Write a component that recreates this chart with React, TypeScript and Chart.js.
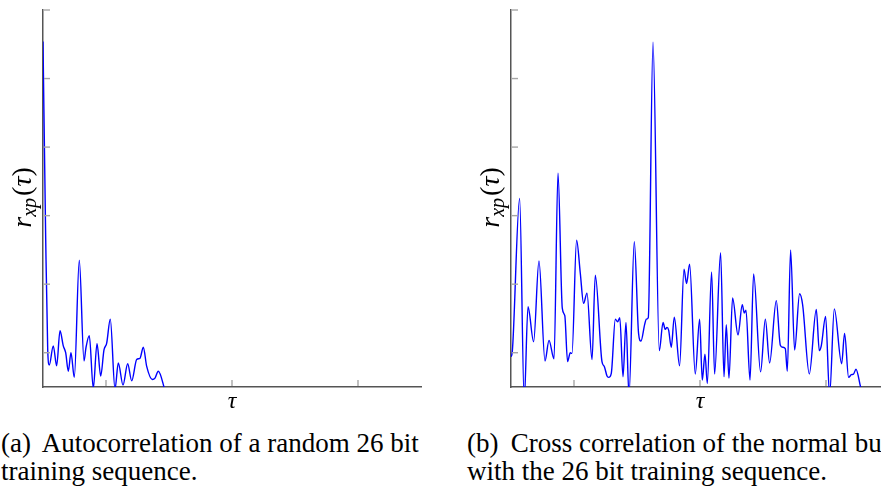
import React, { useEffect, useRef } from "react";
import { Chart, registerables } from "chart.js";

Chart.register(...registerables);

// ---- axis setup (arbitrary units, no tick labels in the figure) ----
const X_MIN = 0;
const X_MAX = 6;
const Y_MIN = -0.5;
const Y_MAX = 5;
const X_TICKS = [1, 3, 5];
const Y_TICKS = [0, 1, 2, 3, 4, 5];

// ---- (a) autocorrelation of random 26 bit training sequence ----
const autoTau = [0, 0.043, 0.075, 0.1, 0.163, 0.217, 0.27, 0.322, 0.36, 0.402, 0.444, 0.497, 0.576, 0.651, 0.683, 0.735, 0.798, 0.857, 0.916, 0.968, 1.011, 1.068, 1.143, 1.195, 1.27, 1.344, 1.408, 1.487, 1.54, 1.592, 1.646, 1.735, 1.778, 1.83, 1.92, 1.98];
const autoR = [4.54, 1.65, 0.04, -0.18, 0.1, -0.19, 0.32, 0.1, 0.0, -0.27, 0.0, -0.36, 1.35, -0.12, 0.08, 0.25, -0.52, 0.13, -0.34, 0.04, 0.14, 0.49, -0.53, -0.15, -0.47, -0.16, -0.41, -0.1, -0.08, 0.08, -0.2, -0.39, -0.37, -0.27, -0.5, -0.75];

// ---- (b) cross correlation of normal burst with 26 bit training sequence ----
const crossTau = [0, 0.02, 0.137, 0.21, 0.27, 0.359, 0.444, 0.54, 0.603, 0.683, 0.746, 0.814, 0.854, 0.898, 0.941, 0.968, 1.041, 1.1, 1.152, 1.206, 1.286, 1.338, 1.444, 1.481, 1.524, 1.549, 1.592, 1.656, 1.692, 1.727, 1.778, 1.825, 1.873, 1.957, 2.025, 2.063, 2.121, 2.148, 2.179, 2.254, 2.354, 2.413, 2.449, 2.476, 2.502, 2.544, 2.592, 2.676, 2.746, 2.787, 2.835, 2.925, 2.994, 3.036, 3.079, 3.116, 3.184, 3.232, 3.327, 3.381, 3.417, 3.46, 3.517, 3.603, 3.671, 3.703, 3.73, 3.794, 3.851, 3.962, 4.037, 4.105, 4.211, 4.275, 4.314, 4.354, 4.386, 4.438, 4.502, 4.581, 4.629, 4.735, 4.846, 4.894, 4.925, 4.994, 5.057, 5.132, 5.248, 5.295, 5.359, 5.402, 5.438, 5.476, 5.549, 5.608];
const crossR = [-0.06, 0.01, 2.25, -0.7, 0.67, 0.16, 1.34, -0.12, 0.18, -0.09, 2.62, 0.65, 0.54, -0.13, 0.0, -0.01, 1.64, 1.16, 0.72, 0.87, -0.1, 1.13, -0.13, -0.2, -0.34, -0.36, -0.3, 0.49, 0.45, 0.51, -0.35, 0.44, -0.62, 1.62, 0.28, 0.17, 0.41, 0.49, 0.51, 4.53, 0.03, 0.44, 0.34, 0.37, 0.33, 0.08, 0.52, -0.19, 1.22, 1.01, 1.29, -0.31, 0.49, -0.4, -0.02, -0.45, 1.18, -0.31, 1.46, -0.35, 0.41, -0.37, 0.8, 0.26, 0.7, 0.58, 0.62, -0.4, 1.15, -0.28, 0.49, -0.15, 0.76, 0.11, 0.08, 0.06, -0.27, 1.5, 0.04, 0.86, 0.7, -0.31, 0.63, 0.03, 0.1, 0.53, -0.62, 0.64, -0.16, 0.28, -0.36, -0.32, -0.31, -0.24, -0.5, -0.7];

// ---- texts ----
const Y_LABEL_MAIN = "r";
const Y_LABEL_SUB = "xp";
const Y_LABEL_TAIL = "(τ)";
const X_LABEL = "τ";
const CAPTION_A = ["(a)\u2009 Autocorrelation of a random 26 bit", "training sequence."];
const CAPTION_B = ["(b)\u2009 Cross correlation of the normal burst", "with the 26 bit training sequence."];

const LINE_COLOR = "#0000ff";
const SERIF = "'Liberation Serif', 'Times New Roman', 'DejaVu Serif', serif";

const decorPlugin = {
  id: "pgfDecor",
  afterDraw(chart: any) {
    const { ctx, chartArea, scales } = chart;
    const xs = scales.x;
    const ys = scales.y;
    ctx.save();
    // inward ticks
    ctx.strokeStyle = "#a6a6a6";
    ctx.lineWidth = 1.4;
    Y_TICKS.forEach((v) => {
      const py = ys.getPixelForValue(v);
      ctx.beginPath();
      ctx.moveTo(chartArea.left + 1, py);
      ctx.lineTo(chartArea.left + 7, py);
      ctx.stroke();
    });
    X_TICKS.forEach((v) => {
      const px = xs.getPixelForValue(v);
      ctx.beginPath();
      ctx.moveTo(px, chartArea.bottom - 1);
      ctx.lineTo(px, chartArea.bottom - 7);
      ctx.stroke();
    });
    // x label
    ctx.fillStyle = "#000";
    ctx.font = "italic 24px " + SERIF;
    ctx.textAlign = "center";
    ctx.textBaseline = "alphabetic";
    ctx.fillText(X_LABEL, (chartArea.left + chartArea.right) / 2, chartArea.bottom + 21);
    // y label (rotated, with subscript)
    const cy = (chartArea.top + chartArea.bottom) / 2 - 1;
    ctx.translate(chartArea.left - 12, cy);
    ctx.rotate(-Math.PI / 2);
    const mainFont = "italic 28px " + SERIF;
    const subFont = "italic 20px " + SERIF;
    const tailFont = "28px " + SERIF;
    ctx.font = mainFont;
    const w1 = ctx.measureText(Y_LABEL_MAIN).width;
    const wt = ctx.measureText(Y_LABEL_TAIL.slice(1, 2)).width;
    ctx.font = subFont;
    const w2 = ctx.measureText(Y_LABEL_SUB).width;
    ctx.font = tailFont;
    const wp = ctx.measureText("(").width;
    const wq = ctx.measureText(")").width;
    let x0 = -(w1 + w2 + wp + wt + wq + 2) / 2;
    ctx.textAlign = "left";
    ctx.font = mainFont;
    ctx.fillText(Y_LABEL_MAIN, x0, 0);
    x0 += w1;
    ctx.font = subFont;
    ctx.fillText(Y_LABEL_SUB, x0, 5);
    x0 += w2 + 2;
    ctx.font = tailFont;
    ctx.fillText(Y_LABEL_TAIL.slice(0, 1), x0, 0);
    ctx.font = mainFont;
    ctx.fillText(Y_LABEL_TAIL.slice(1, 2), x0 + wp, 0);
    ctx.font = tailFont;
    ctx.fillText(Y_LABEL_TAIL.slice(2), x0 + wp + wt, 0);
    ctx.restore();
  },
};

function Plot(props: { tau: number[]; r: number[]; width: number; height: number; padLeft: number; padRight: number }) {
  const ref = useRef<HTMLCanvasElement>(null);
  useEffect(() => {
    const data = props.tau.map((t, i) => ({ x: t, y: props.r[i] }));
    const chart = new Chart(ref.current as HTMLCanvasElement, {
      type: "line",
      data: {
        datasets: [
          {
            data,
            borderColor: LINE_COLOR,
            borderWidth: 1.4,
            pointRadius: 0,
            cubicInterpolationMode: "monotone",
            fill: false,
            clip: 0,
          } as any,
        ],
      },
      options: {
        responsive: false,
        animation: false,
        events: [],
        layout: { padding: { left: props.padLeft, right: props.padRight, top: 10, bottom: props.height - 387 } },
        plugins: { legend: { display: false }, tooltip: { enabled: false }, title: { display: false } },
        scales: {
          x: {
            type: "linear",
            min: X_MIN,
            max: X_MAX,
            grid: { display: false },
            border: { display: true, color: "#555555", width: 1.5 },
            ticks: { display: false },
            afterBuildTicks: (s: any) => {
              s.ticks = X_TICKS.map((v) => ({ value: v }));
            },
            afterFit: (s: any) => {
              s.height = 0;
            },
          },
          y: {
            type: "linear",
            min: Y_MIN,
            max: Y_MAX,
            grid: { display: false },
            border: { display: true, color: "#555555", width: 1.5 },
            ticks: { display: false },
            afterBuildTicks: (s: any) => {
              s.ticks = Y_TICKS.map((v) => ({ value: v }));
            },
            afterFit: (s: any) => {
              s.width = 0;
            },
          },
        },
      },
      plugins: [decorPlugin],
    });
    return () => chart.destroy();
  }, []);
  return <canvas ref={ref} width={props.width} height={props.height} style={{ display: "block", width: props.width, height: props.height }} />;
}

const captionStyle: React.CSSProperties = {
  position: "absolute",
  top: 429,
  fontFamily: SERIF,
  fontSize: 27,
  lineHeight: "28px",
  whiteSpace: "pre",
  color: "#000",
};

export default function App() {
  return (
    <div style={{ position: "fixed", left: 0, top: 0, width: 881, height: 489, overflow: "hidden", background: "#fff" }}>
      <div style={{ position: "absolute", left: 0, top: 0, width: 440, height: 420 }}>
        <Plot tau={autoTau} r={autoR} width={440} height={420} padLeft={43} padRight={19} />
      </div>
      <div style={{ position: "absolute", left: 440, top: 0, width: 460, height: 420 }}>
        <Plot tau={crossTau} r={crossR} width={460} height={420} padLeft={71} padRight={11} />
      </div>
      <div style={{ ...captionStyle, left: 1 }}>
        {CAPTION_A[0]}
        <br />
        {CAPTION_A[1]}
      </div>
      <div style={{ ...captionStyle, left: 467 }}>
        {CAPTION_B[0]}
        <br />
        {CAPTION_B[1]}
      </div>
    </div>
  );
}
